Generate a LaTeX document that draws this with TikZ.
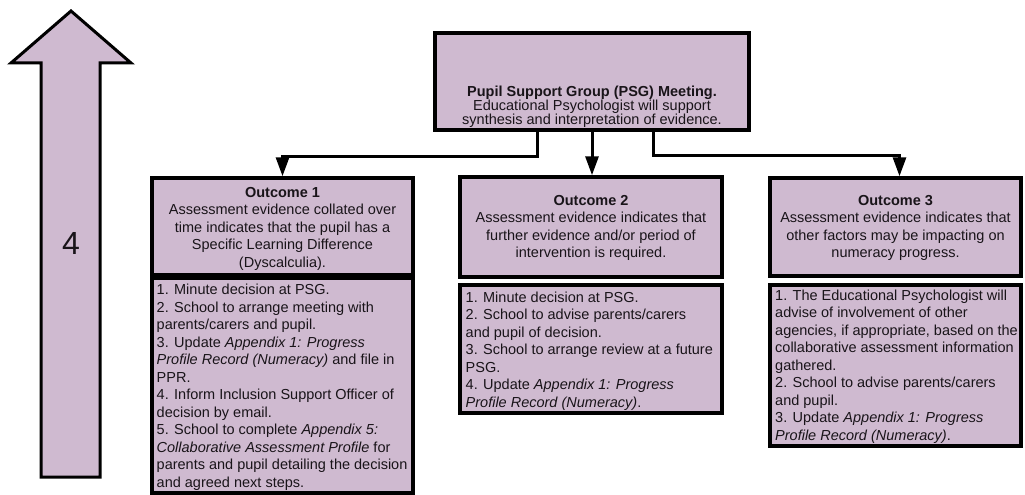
\documentclass[tikz,border=0pt]{standalone}
\usepackage{fontspec}
\setmainfont{Liberation Sans}
\usetikzlibrary{arrows.meta}
\definecolor{lilac}{RGB}{207,186,208}
\definecolor{ink}{RGB}{25,20,25}
\begin{document}
\begin{tikzpicture}[x=1pt,y=-1pt,
  box/.style={draw=black,fill=lilac,line width=3.5pt,rectangle,inner sep=0pt},
  txt/.style={inner sep=0pt,text=ink,font=\fontsize{14.5}{17.5}\selectfont},
  conn/.style={line width=3pt,-{Triangle[width=13pt,length=19pt]}},
  bigarrow/.style={draw=black,fill=lilac,line width=3pt,line join=miter}]
\useasboundingbox (0,0) rectangle (1025,495);
% big arrow
\draw[bigarrow] (71,11) -- (131,63) -- (100,63) -- (100,477) -- (41,477) -- (41,63) -- (11,63) -- cycle;
\node[inner sep=0pt,text=ink,font=\fontsize{32}{36}\selectfont] (four) at (71,243) {4};
% PSG
\node[box,minimum width=314pt,minimum height=97pt] (psg) at (592,81.5) {};
\node[txt,anchor=north,align=center,font=\fontsize{14.5}{14.2}\selectfont] (psgt) at (592,85.5)
  {\textbf{Pupil Support Group (PSG) Meeting.}\\Educational Psychologist will support\\synthesis and interpretation of evidence.};
% Outcome 1
\node[box,minimum width=261pt,minimum height=97pt] (o1h) at (282.5,226.5) {};
\node[box,minimum width=261pt,minimum height=215pt] (o1b) at (282.5,385.5) {};
\node[txt,anchor=north,align=center] (o1ht) at (282.5,187)
  {\textbf{Outcome 1}\\Assessment evidence collated over\\time indicates that the pupil has a\\Specific Learning Difference\\(Dyscalculia).};
\node[txt,anchor=north west,align=left] (o1bt) at (156.5,284)
  {1. Minute decision at PSG.\\
   2. School to arrange meeting with\\
   parents/carers and pupil.\\
   3. Update \textit{Appendix 1: Progress}\\
   \textit{Profile Record (Numeracy)} and file in\\
   PPR.\\
   4. Inform Inclusion Support Officer of\\
   decision by email.\\
   5. School to complete \textit{Appendix 5:}\\
   \textit{Collaborative Assessment Profile} for\\
   parents and pupil detailing the decision\\
   and agreed next steps.};
% Outcome 2
\node[box,minimum width=262pt,minimum height=100pt] (o2h) at (591,227) {};
\node[box,minimum width=262pt,minimum height=128pt] (o2b) at (591,349) {};
\node[txt,anchor=north,align=center] (o2ht) at (591,195)
  {\textbf{Outcome 2}\\Assessment evidence indicates that\\further evidence and/or period of\\intervention is required.};
\node[txt,anchor=north west,align=left] (o2bt) at (465.5,291.5)
  {1. Minute decision at PSG.\\
   2. School to advise parents/carers\\
   and pupil of decision.\\
   3. School to arrange review at a future\\
   PSG.\\
   4. Update \textit{Appendix 1: Progress}\\
   \textit{Profile Record (Numeracy)}.};
% Outcome 3
\node[box,minimum width=251pt,minimum height=98pt] (o3h) at (895.5,227) {};
\node[box,minimum width=251pt,minimum height=161pt] (o3b) at (895.5,365.5) {};
\node[txt,anchor=north,align=center] (o3ht) at (895.5,195)
  {\textbf{Outcome 3}\\Assessment evidence indicates that\\other factors may be impacting on\\numeracy progress.};
\node[txt,anchor=north west,align=left] (o3bt) at (775,289.5)
  {1. The Educational Psychologist will\\
   advise of involvement of other\\
   agencies, if appropriate, based on the\\
   collaborative assessment information\\
   gathered.\\
   2. School to advise parents/carers\\
   and pupil.\\
   3. Update \textit{Appendix 1: Progress}\\
   \textit{Profile Record (Numeracy)}.};
% connectors
\coordinate (lstart) at ([xshift=-55pt]psg.south);
\coordinate (rstart) at ([xshift=61pt]psg.south);
\draw[conn] (lstart) -- ++(0,25) -| (o1h.north);
\draw[conn] (psg.south) -- (psg.south |- o2h.north);
\draw[conn] (rstart) -- ++(0,24) -| ([xshift=4pt]o3h.north);
\end{tikzpicture}
\end{document}
